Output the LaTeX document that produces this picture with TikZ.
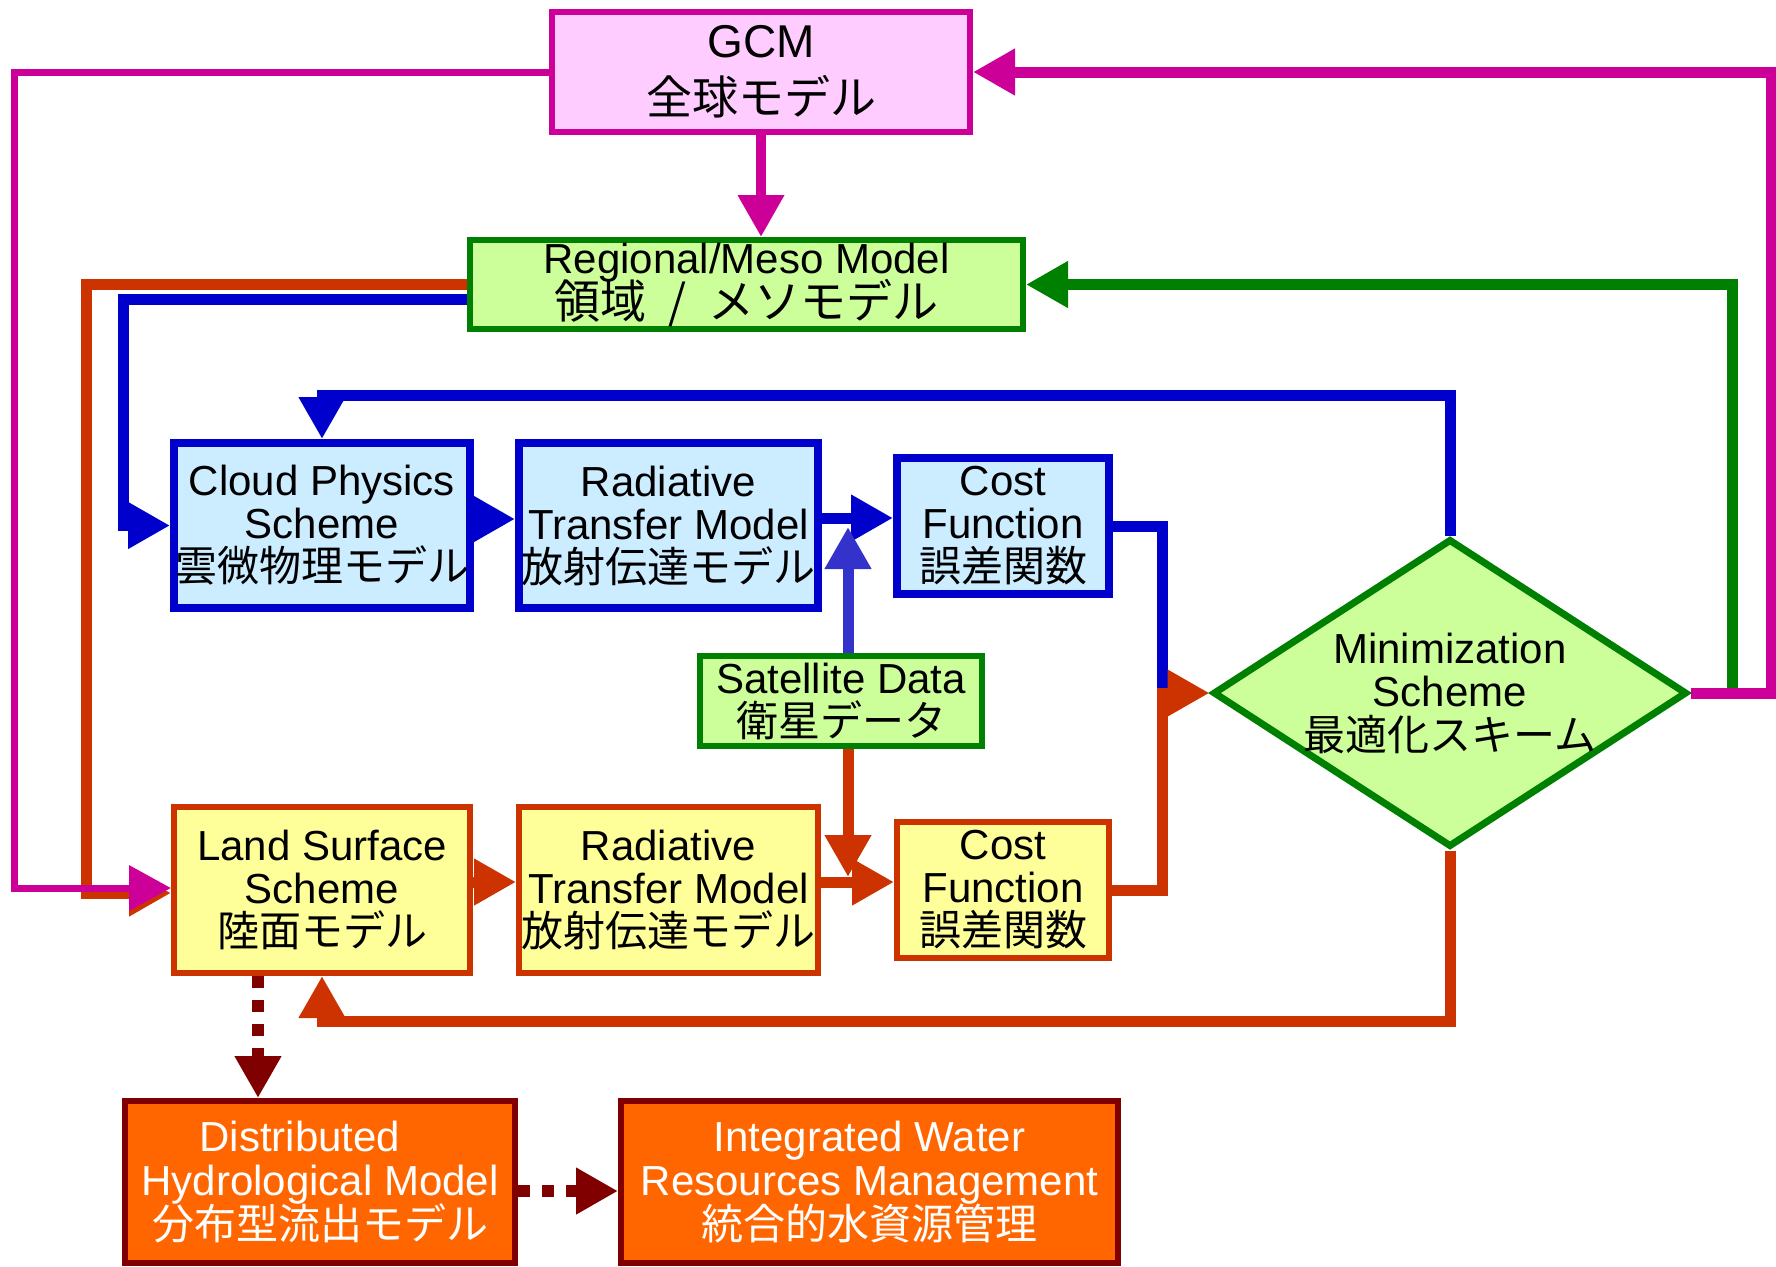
\documentclass[tikz,border=0pt]{standalone}
\usepackage{fontspec}
\setmainfont{Liberation Sans}
\newfontfamily\jp{Noto Sans CJK JP}
\usetikzlibrary{arrows.meta,shapes.geometric}
\definecolor{mag}{HTML}{CC0099}
\definecolor{gcmfill}{HTML}{FFCCFF}
\definecolor{grn}{HTML}{008000}
\definecolor{regfill}{HTML}{CCFF99}
\definecolor{blu}{HTML}{0000CC}
\definecolor{cloudfill}{HTML}{CCECFF}
\definecolor{satblue}{HTML}{3333CC}
\definecolor{rd}{HTML}{CC3300}
\definecolor{yfill}{HTML}{FFFF99}
\definecolor{dred}{HTML}{800000}
\definecolor{ofill}{HTML}{FF6600}
\begin{document}
\begin{tikzpicture}[x=0.5pt,y=-0.5pt,
  tip/.style={-{Triangle[length=21pt,width=22pt]}},
  box/.style={draw, inner sep=0pt, align=center,
    font={\fontsize{21}{21.5}\selectfont\lineskiplimit=-100pt\relax}},
  bluebox/.style={box, draw=blu, line width=4pt, fill=cloudfill},
  ylbox/.style={box, draw=rd, line width=3pt, fill=yfill},
  orbox/.style={box, draw=dred, line width=3pt, fill=ofill, text=white},
  grbox/.style={box, draw=grn, line width=3pt, fill=regfill},
  conn/.style={line join=miter},
  magthin/.style={conn, draw=mag, line width=3.5pt},
  magthick/.style={conn, draw=mag, line width=5.5pt},
  grnline/.style={conn, draw=grn, line width=5.5pt},
  redline/.style={conn, draw=rd, line width=5.5pt},
  bluline/.style={conn, draw=blu, line width=5.5pt},
  satline/.style={conn, draw=satblue, line width=5.5pt},
  dashline/.style={conn, draw=dred, line width=6pt, dash pattern=on 6pt off 6pt},
]
\useasboundingbox (0,0) rectangle (1776,1266);

% nodes
\node[box, draw=mag, line width=3pt, fill=gcmfill, minimum width=209pt, minimum height=60pt,
      font={\fontsize{23}{28.5}\selectfont\lineskiplimit=-100pt\relax}] (gcm) at (761,72)
      {GCM\\{\jp 全球モデル}};
\node[grbox, minimum width=276.5pt, minimum height=44.5pt,
      font={\fontsize{21}{22.5}\selectfont\lineskiplimit=-100pt\relax}] (reg) at (746.5,284.5)
      {Regional/Meso Model\\{\jp\fontsize{23}{22.5}\selectfont 領域\hspace{11pt}/\hspace{11pt}メソモデル}};
\node[bluebox, minimum width=148pt, minimum height=82.5pt] (cloud) at (322,525.5)
      {Cloud Physics\\Scheme\\{\jp 雲微物理モデル}};
\node[bluebox, minimum width=149.5pt, minimum height=82.5pt] (rad1) at (668.5,525.5)
      {Radiative\\Transfer Model\\{\jp 放射伝達モデル}};
\node[bluebox, minimum width=106pt, minimum height=68pt] (cost1) at (1003,526)
      {Cost\\Function\\{\jp 誤差関数}};
\node[grbox, minimum width=141pt, minimum height=45pt] (sat) at (841,701)
      {Satellite Data\\{\jp 衛星データ}};
\node[diamond, draw=grn, line width=3.5pt, fill=regfill, inner sep=0pt,
      minimum width=237pt, minimum height=154pt] (mini) at (1450,693) {};
\node[inner sep=0pt, align=center,
      font={\fontsize{21}{21.75}\selectfont\lineskiplimit=-100pt\relax}] (minitext) at (mini.center)
      {Minimization\\Scheme\\{\jp 最適化スキーム}};
\node[ylbox, minimum width=148pt, minimum height=83pt] (land) at (322,890)
      {Land Surface\\Scheme\\{\jp 陸面モデル}};
\node[ylbox, minimum width=149.5pt, minimum height=83pt] (rad2) at (668.5,890)
      {Radiative\\Transfer Model\\{\jp 放射伝達モデル}};
\node[ylbox, minimum width=106pt, minimum height=68pt] (cost2) at (1003,890)
      {Cost\\Function\\{\jp 誤差関数}};
\node[orbox, minimum width=195pt, minimum height=81pt,
      font={\fontsize{21}{22}\selectfont\lineskiplimit=-100pt\relax}] (dist) at (320,1182)
      {Distributed\hspace*{20pt}\\Hydrological Model\\{\jp 分布型流出モデル}};
\node[orbox, minimum width=248.5pt, minimum height=81pt,
      font={\fontsize{21}{22}\selectfont\lineskiplimit=-100pt\relax}] (integ) at (869.5,1182)
      {Integrated Water\\Resources Management\\{\jp 統合的水資源管理}};

% routing coordinates
\coordinate (xL) at (14.5,0);
\coordinate (xR) at (1771,0);
\coordinate (xG) at (1732,0);
\coordinate (xRd) at (86.5,0);
\coordinate (xB) at (123.5,0);
\coordinate (yT) at (0,395);
\coordinate (yBt) at (0,1021);
\coordinate (xM) at (1162,0);
\coordinate (xS) at (848,0);
\coordinate (xD) at (258,0);
\coordinate (satTip) at (848,527);
\coordinate (redTip) at (848,877);
\coordinate (redIn) at ([yshift=-1.5pt]land.west);
\coordinate (magIn) at ([yshift=1pt]land.west);
\coordinate (bluOut) at ([yshift=-7.5pt]reg.west);
\coordinate (c1) at ([yshift=3.25pt]cloud.east);
\coordinate (c2) at ([yshift=3.75pt]rad1.east);
\coordinate (l1) at ([yshift=4pt]land.east);
\coordinate (l2) at ([yshift=4pt]rad2.east);
\coordinate (d1) at ([yshift=-4.5pt]dist.east);

% connectors
\draw[grnline, tip] (xG |- mini.east) |- (reg.east);
\draw[magthick, tip] (mini.east) -| (xR |- gcm.east) -- (gcm.east);
\draw[magthick, line width=5pt, tip] (gcm.south) -- (gcm.south |- reg.north);
\draw[redline, tip] (reg.west) -| (xRd |- redIn) -- (redIn);
\draw[magthin, tip] (gcm.west) -| (xL |- magIn) -- (magIn);
\draw[bluline, tip] (bluOut) -| (xB |- cloud.west) -- (cloud.west);
\draw[bluline, tip] (mini.north) -- (mini.north |- yT) -| (cloud.north);
\draw[bluline, tip] (c1) -- (c1 -| rad1.west);
\draw[bluline, tip] (c2) -- (c2 -| cost1.west);
\draw[bluline] (cost1.east) -| (xM |- mini.west);
\draw[satline, tip] (xS |- sat.north) -- (satTip);
\draw[redline, tip] (xS |- sat.south) -- (redTip);
\draw[redline, tip] (l1) -- (l1 -| rad2.west);
\draw[redline, tip] (l2) -- (l2 -| cost2.west);
\draw[redline, tip] (cost2.east) -| (xM |- mini.west) -- (mini.west);
\draw[redline, tip] (mini.south) -- (mini.south |- yBt) -| (land.south);
\draw[dashline, tip] (xD |- land.south) -- (xD |- dist.north);
\draw[dashline, tip] (d1) -- (d1 -| integ.west);
\end{tikzpicture}
\end{document}
